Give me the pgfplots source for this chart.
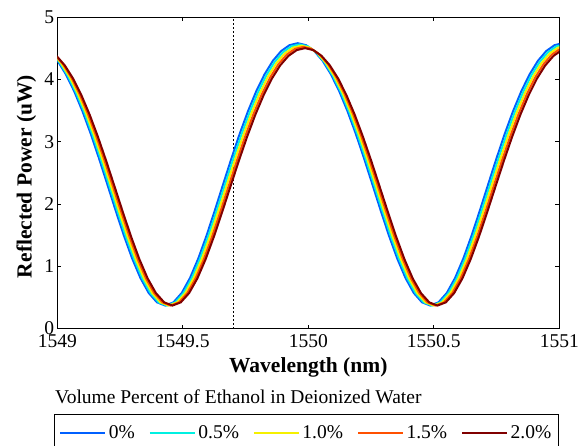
\documentclass[border=0pt]{standalone}
\usepackage{fontspec}
\setmainfont{Liberation Serif}
\usepackage{pgfplots}
\usepackage{pgfplotstable}
\pgfplotsset{compat=1.18}
\definecolor{c0}{RGB}{0,96,255}
\definecolor{c1}{RGB}{0,240,225}
\definecolor{c2}{RGB}{245,240,0}
\definecolor{c3}{RGB}{255,80,0}
\definecolor{c4}{RGB}{128,0,0}
\pgfplotstableread{
x0 x1 x2 x3 x4 y0 y1 y2 y3 y4
1548.968 1548.975 1548.982 1548.990 1548.997 4.454 4.434 4.415 4.396 4.376
1549.001 1549.008 1549.015 1549.023 1549.030 4.298 4.279 4.260 4.242 4.223
1549.034 1549.041 1549.048 1549.056 1549.063 4.082 4.065 4.047 4.030 4.012
1549.067 1549.074 1549.081 1549.089 1549.096 3.812 3.795 3.779 3.763 3.746
1549.100 1549.107 1549.114 1549.122 1549.129 3.491 3.477 3.462 3.447 3.432
1549.133 1549.140 1549.147 1549.155 1549.162 3.129 3.115 3.102 3.089 3.076
1549.166 1549.173 1549.180 1549.188 1549.195 2.734 2.722 2.711 2.700 2.689
1549.199 1549.206 1549.213 1549.221 1549.228 2.319 2.310 2.301 2.291 2.282
1549.232 1549.239 1549.246 1549.254 1549.261 1.901 1.894 1.886 1.879 1.872
1549.265 1549.272 1549.279 1549.287 1549.294 1.497 1.492 1.487 1.481 1.476
1549.298 1549.305 1549.312 1549.320 1549.327 1.128 1.125 1.121 1.117 1.114
1549.331 1549.338 1549.345 1549.353 1549.360 0.814 0.812 0.809 0.807 0.805
1549.364 1549.371 1549.378 1549.386 1549.393 0.573 0.572 0.571 0.570 0.569
1549.397 1549.404 1549.411 1549.419 1549.426 0.422 0.421 0.421 0.421 0.421
1549.430 1549.437 1549.444 1549.452 1549.459 0.370 0.370 0.370 0.370 0.370
1549.463 1549.470 1549.477 1549.485 1549.492 0.422 0.421 0.421 0.421 0.421
1549.496 1549.503 1549.510 1549.518 1549.525 0.573 0.572 0.571 0.570 0.569
1549.529 1549.536 1549.543 1549.551 1549.558 0.814 0.812 0.809 0.807 0.805
1549.562 1549.569 1549.576 1549.584 1549.591 1.128 1.125 1.121 1.117 1.114
1549.595 1549.602 1549.609 1549.617 1549.624 1.497 1.492 1.487 1.481 1.476
1549.628 1549.635 1549.642 1549.650 1549.657 1.901 1.894 1.886 1.879 1.872
1549.661 1549.668 1549.675 1549.683 1549.690 2.319 2.310 2.301 2.291 2.282
1549.694 1549.701 1549.708 1549.716 1549.723 2.734 2.722 2.711 2.700 2.689
1549.727 1549.734 1549.741 1549.749 1549.756 3.129 3.115 3.102 3.089 3.076
1549.760 1549.767 1549.774 1549.782 1549.789 3.491 3.477 3.462 3.447 3.432
1549.793 1549.800 1549.807 1549.815 1549.822 3.812 3.795 3.779 3.763 3.746
1549.826 1549.833 1549.840 1549.848 1549.855 4.082 4.065 4.047 4.030 4.012
1549.859 1549.866 1549.873 1549.881 1549.888 4.298 4.279 4.260 4.242 4.223
1549.892 1549.899 1549.906 1549.914 1549.921 4.454 4.434 4.415 4.396 4.376
1549.925 1549.932 1549.939 1549.947 1549.954 4.548 4.529 4.509 4.489 4.469
1549.958 1549.965 1549.972 1549.980 1549.987 4.580 4.560 4.540 4.520 4.500
1549.991 1549.998 1550.005 1550.013 1550.020 4.548 4.529 4.509 4.489 4.469
1550.024 1550.031 1550.038 1550.046 1550.053 4.454 4.434 4.415 4.396 4.376
1550.057 1550.064 1550.071 1550.079 1550.086 4.298 4.279 4.260 4.242 4.223
1550.090 1550.097 1550.104 1550.112 1550.119 4.082 4.065 4.047 4.030 4.012
1550.123 1550.130 1550.137 1550.145 1550.152 3.812 3.795 3.779 3.763 3.746
1550.156 1550.163 1550.170 1550.178 1550.185 3.491 3.477 3.462 3.447 3.432
1550.189 1550.196 1550.203 1550.211 1550.218 3.129 3.115 3.102 3.089 3.076
1550.222 1550.229 1550.236 1550.244 1550.251 2.734 2.722 2.711 2.700 2.689
1550.255 1550.262 1550.269 1550.277 1550.284 2.319 2.310 2.301 2.291 2.282
1550.288 1550.295 1550.302 1550.310 1550.317 1.901 1.894 1.886 1.879 1.872
1550.321 1550.328 1550.335 1550.343 1550.350 1.497 1.492 1.487 1.481 1.476
1550.354 1550.361 1550.368 1550.376 1550.383 1.128 1.125 1.121 1.117 1.114
1550.387 1550.394 1550.401 1550.409 1550.416 0.814 0.812 0.809 0.807 0.805
1550.420 1550.427 1550.434 1550.442 1550.449 0.573 0.572 0.571 0.570 0.569
1550.453 1550.460 1550.467 1550.475 1550.482 0.422 0.421 0.421 0.421 0.421
1550.486 1550.493 1550.500 1550.508 1550.515 0.370 0.370 0.370 0.370 0.370
1550.519 1550.526 1550.533 1550.541 1550.548 0.422 0.421 0.421 0.421 0.421
1550.552 1550.559 1550.566 1550.574 1550.581 0.573 0.572 0.571 0.570 0.569
1550.585 1550.592 1550.599 1550.607 1550.614 0.814 0.812 0.809 0.807 0.805
1550.618 1550.625 1550.632 1550.640 1550.647 1.128 1.125 1.121 1.117 1.114
1550.651 1550.658 1550.665 1550.673 1550.680 1.497 1.492 1.487 1.481 1.476
1550.684 1550.691 1550.698 1550.706 1550.713 1.901 1.894 1.886 1.879 1.872
1550.717 1550.724 1550.731 1550.739 1550.746 2.319 2.310 2.301 2.291 2.282
1550.750 1550.757 1550.764 1550.772 1550.779 2.734 2.722 2.711 2.700 2.689
1550.783 1550.790 1550.797 1550.805 1550.812 3.129 3.115 3.102 3.089 3.076
1550.816 1550.823 1550.830 1550.838 1550.845 3.491 3.477 3.462 3.447 3.432
1550.849 1550.856 1550.863 1550.871 1550.878 3.812 3.795 3.779 3.763 3.746
1550.882 1550.889 1550.896 1550.904 1550.911 4.082 4.065 4.047 4.030 4.012
1550.915 1550.922 1550.929 1550.937 1550.944 4.298 4.279 4.260 4.242 4.223
1550.948 1550.955 1550.962 1550.970 1550.977 4.454 4.434 4.415 4.396 4.376
1550.981 1550.988 1550.995 1551.003 1551.010 4.548 4.529 4.509 4.489 4.469
1551.014 1551.021 1551.028 1551.036 1551.043 4.580 4.560 4.540 4.520 4.500
}\spectra
% exact x-coordinate shift by 1500 (string based, keeps full precision);
% handles raw input "1549.437" and pgf float input "1Y1.549437e3]"
\def\wlstrip#1#2#3\relax{\if Y#2\wlfloat#3\relax\else\def\pgfmathresult{#3}\fi}
\def\wlfloat1.5#1e3]\relax{\wlpad#1000\relax}
\def\wlpad#1#2#3\relax{\def\pgfmathresult{#1#2.#3}}
\begin{document}
\begin{tikzpicture}
\useasboundingbox (0,0) rectangle (579pt,445pt);
\clip (0,0) rectangle (579pt,445pt);
\begin{axis}[
  at={(57.3pt,116.4pt)}, anchor=south west,
  scale only axis, width=502pt, height=311.6pt,
  x coord trafo/.code={\edef\wltmp{#1}\expandafter\wlstrip\wltmp\relax},
  xmin=1549, xmax=1551, ymin=0, ymax=5,
  xtick={1549,1549.5,1550,1550.5,1551},
  xticklabels={1549,1549.5,1550,1550.5,1551},
  ytick={0,1,2,3,4,5}, yticklabels={0,1,2,3,4,5},
  tick align=inside, major tick length=4pt,
  axis line style={line width=0.8pt},
  every tick/.style={black, line width=0.8pt},
  tick label style={font=\fontsize{19.5}{20}\selectfont},
  xticklabel style={inner sep=5.5pt},
  yticklabel style={inner sep=3pt},
  xlabel={Wavelength (nm)}, ylabel={Reflected Power (uW)},
  label style={font=\fontsize{21.5}{24}\selectfont\bfseries},
  xlabel style={at={(axis description cs:0.5,-0.1415)}, anchor=base},
  ylabel style={at={(axis description cs:-0.051,0.488)}, anchor=base},
  legend columns=5,
  legend style={at={(-0.0066,-0.275)}, anchor=north west, draw=black,
    line width=0.8pt, font=\fontsize{19.5}{20}\selectfont,
    inner xsep=5pt, inner ysep=8.7pt,
    nodes={inner sep=2.5pt},
    /tikz/every even column/.append style={column sep=11.5pt}},
  legend image code/.code={\draw[#1, line width=2pt] (0pt,0pt) -- (45pt,0pt);},
]
\addplot[black, line width=0.7pt, dash pattern=on 2pt off 2pt, forget plot] coordinates {(1549.7,0) (1549.7,5)};
\addplot[c0, line width=2pt] table[x=x0,y=y0]{\spectra};
\addlegendentry{0\%}
\addplot[c1, line width=2pt] table[x=x1,y=y1]{\spectra};
\addlegendentry{0.5\%}
\addplot[c2, line width=2pt] table[x=x2,y=y2]{\spectra};
\addlegendentry{1.0\%}
\addplot[c3, line width=2pt] table[x=x3,y=y3]{\spectra};
\addlegendentry{1.5\%}
\addplot[c4, line width=2pt] table[x=x4,y=y4]{\spectra};
\addlegendentry{2.0\%}
\end{axis}
\node[anchor=base west, font=\fontsize{19.5}{20}\selectfont, inner sep=0pt] at (55pt,41.7pt) {Volume Percent of Ethanol in Deionized Water};
\end{tikzpicture}
\end{document}
